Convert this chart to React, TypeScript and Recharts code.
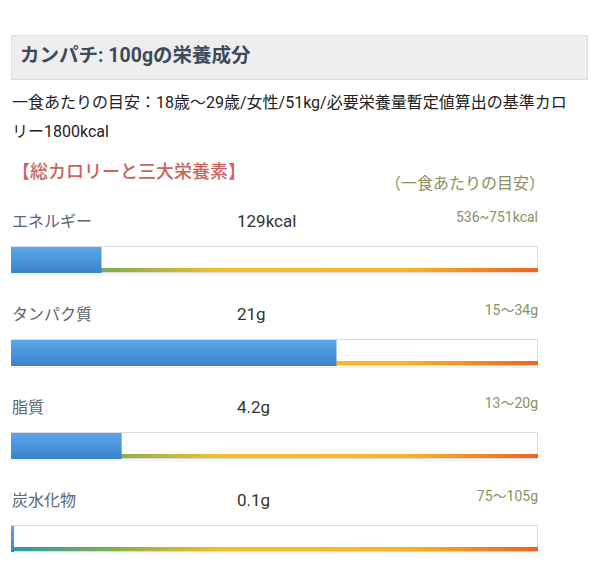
import React from 'react';
import { BarChart, Bar, XAxis, YAxis } from 'recharts';

const nutrients = ['エネルギー', 'タンパク質', '脂質', '炭水化物'];
const amounts = [129, 21, 4.2, 0.1];
const units = ['kcal', 'g', 'g', 'g'];
const rangeMin = [536, 15, 13, 75];
const rangeMax = [751, 34, 20, 105];
const rangeSep = ['~', '〜', '〜', '〜'];

const data = nutrients.map((name, i) => ({
  name,
  pct: (amounts[i] / rangeMax[i]) * 100,
  valueLabel: `${amounts[i]}${units[i]}`,
  rangeLabel: `${rangeMin[i]}${rangeSep[i]}${rangeMax[i]}${units[i]}`,
}));

const FONT = 'Roboto, "Noto Sans CJK JP", sans-serif';

const Track = (props: any) => {
  const { x, y, width, height } = props;
  return (
    <g>
      <rect x={x} y={y + height + 0.5} width={width} height={1.5} fill="#f0f0f0" />
      <rect x={x + 0.5} y={y + 0.5} width={width - 1} height={height - 1} fill="#ffffff" stroke="#dcdcdc" strokeWidth={1} />
      <rect x={x} y={y + height - 5} width={width} height={4} fill="url(#lineGrad)" />
    </g>
  );
};

const BlueBar = (props: any) => {
  const { x, y, width, height } = props;
  return <rect x={x} y={y + 1} width={width} height={height - 1} fill="url(#blueGrad)" />;
};

const RowLabel = (props: any) => {
  const { y, index } = props;
  const d = data[index];
  if (!d) return null;
  return (
    <g style={{ fontFamily: FONT }}>
      <text x={12} y={y - 19} fontSize={16} fill="#5b6573">{d.name}</text>
      <text x={237} y={y - 19} fontSize={17} fill="#333333">{d.valueLabel}</text>
      <text x={538} y={y - 24} fontSize={14} fill="#8a9060" textAnchor="end">{d.rangeLabel}</text>
    </g>
  );
};

export default function App() {
  return (
    <div style={{ position: 'absolute', left: 0, top: 0, width: 600, height: 585, overflow: 'hidden', background: '#ffffff', fontFamily: FONT }}>
      <div style={{ position: 'absolute', left: 11, top: 35, width: 575, height: 43, background: '#eeeeee', border: '1px solid #dddddd' }}>
        <div style={{ position: 'absolute', left: 8, top: 6, fontSize: 19.5, fontWeight: 700, color: '#3e4a5a', whiteSpace: 'nowrap', lineHeight: '28px' }}>
          カンパチ: 100gの栄養成分
        </div>
      </div>
      <div style={{ position: 'absolute', left: 12, top: 88, fontSize: 16, color: '#222222', whiteSpace: 'nowrap', lineHeight: '29px' }}>
        <div>一食あたりの目安：18歳〜29歳/女性/51kg/必要栄養量暫定値算出の基準カロ</div>
        <div>リー1800kcal</div>
      </div>
      <div style={{ position: 'absolute', left: 12, top: 158, fontSize: 18, fontWeight: 500, color: '#c8645c', whiteSpace: 'nowrap', lineHeight: '28px' }}>
        【総カロリーと三大栄養素】
      </div>
      <div style={{ position: 'absolute', left: 385, top: 171, fontSize: 16, color: '#8a9060', whiteSpace: 'nowrap', lineHeight: '26px' }}>
        （一食あたりの目安）
      </div>
      <div style={{ position: 'absolute', left: 0, top: 173 }}>
        <BarChart width={600} height={412} data={data} layout="vertical" margin={{ top: 40, right: 62, bottom: 0, left: 11 }}>
          <defs>
            <linearGradient id="lineGrad" x1="0" y1="0" x2="1" y2="0">
              <stop offset="0%" stopColor="#2a9aa8" />
              <stop offset="20%" stopColor="#8aae4c" />
              <stop offset="40%" stopColor="#f2c12a" />
              <stop offset="75%" stopColor="#f5b622" />
              <stop offset="100%" stopColor="#ec6420" />
            </linearGradient>
            <linearGradient id="blueGrad" x1="0" y1="0" x2="0" y2="1">
              <stop offset="0%" stopColor="#5ca6ea" />
              <stop offset="100%" stopColor="#3a83cd" />
            </linearGradient>
          </defs>
          <XAxis type="number" domain={[0, 100]} hide />
          <YAxis type="category" dataKey="name" hide />
          <Bar
            dataKey="pct"
            barSize={27}
            minPointSize={3}
            isAnimationActive={false}
            background={(p: any) => <Track {...p} />}
            shape={(p: any) => <BlueBar {...p} />}
            label={(p: any) => <RowLabel {...p} />}
          />
        </BarChart>
      </div>
      <div style={{ position: 'absolute', left: 12, top: 582, fontSize: 18, color: '#c8645c', whiteSpace: 'nowrap', lineHeight: '28px' }}>
        【主なミネラル】
      </div>
    </div>
  );
}
